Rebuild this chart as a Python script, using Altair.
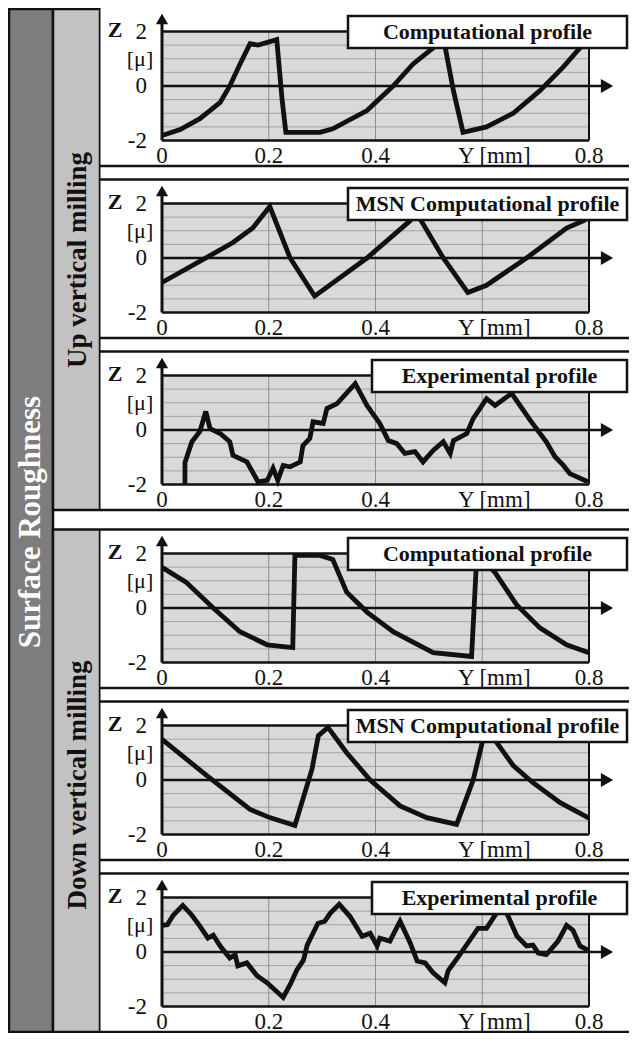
import altair as alt
import pandas as pd

# ------------------------------------------------------------------ data
up_comp_x = [0.0, 0.034, 0.071, 0.109, 0.127, 0.146, 0.165, 0.18, 0.215, 0.225, 0.232, 0.296,
             0.32, 0.384, 0.433, 0.47, 0.508, 0.525, 0.546, 0.564, 0.608, 0.658, 0.708, 0.752, 0.783, 0.8]
up_comp_z = [-1.82, -1.6, -1.2, -0.6, 0.0, 0.8, 1.55, 1.5, 1.7, -0.5, -1.7, -1.7,
             -1.57, -0.9, 0.0, 0.8, 1.4, 2.0, -0.17, -1.7, -1.5, -1.0, -0.17, 0.7, 1.4, 1.7]

up_msn_x = [0.0, 0.084, 0.133, 0.17, 0.202, 0.24, 0.286, 0.384, 0.465, 0.474, 0.527, 0.573,
            0.608, 0.683, 0.758, 0.79, 0.8]
up_msn_z = [-0.9, 0.02, 0.57, 1.1, 1.89, 0.0, -1.4, 0.0, 1.37, 1.75, 0.0, -1.27,
            -1.0, 0.0, 1.1, 1.37, 1.5]

up_exp_x = [0.043, 0.043, 0.056, 0.071, 0.082, 0.09, 0.109, 0.127, 0.133, 0.159, 0.18, 0.197,
            0.208, 0.217, 0.227, 0.24, 0.259, 0.264, 0.277, 0.283, 0.302, 0.309, 0.328, 0.362,
            0.384, 0.408, 0.424, 0.44, 0.455, 0.474, 0.489, 0.508, 0.527, 0.54, 0.546, 0.571,
            0.583, 0.608, 0.624, 0.655, 0.69, 0.72, 0.736, 0.752, 0.764, 0.798]
up_exp_z = [-2.0, -1.2, -0.43, -0.05, 0.68, 0.05, -0.13, -0.43, -0.93, -1.17, -1.9, -1.85,
            -1.4, -1.85, -1.3, -1.35, -1.17, -0.57, -0.31, 0.3, 0.24, 0.79, 0.97, 1.7,
            0.9, 0.24, -0.39, -0.5, -0.86, -0.79, -1.17, -0.75, -0.43, -0.86, -0.39, -0.13,
            0.42, 1.15, 0.9, 1.34, 0.35, -0.43, -0.97, -1.3, -1.6, -1.9]

down_comp_x = [0.0, 0.045, 0.096, 0.146, 0.197, 0.245, 0.249, 0.296, 0.32, 0.346, 0.384, 0.433,
               0.508, 0.58, 0.59, 0.624, 0.665, 0.708, 0.758, 0.8]
down_comp_z = [1.49, 0.95, 0.0, -0.87, -1.35, -1.45, 1.93, 1.93, 1.78, 0.58, -0.15, -0.87,
               -1.64, -1.78, 2.0, 1.3, 0.1, -0.73, -1.35, -1.64]

down_msn_x = [0.0, 0.084, 0.165, 0.202, 0.249, 0.281, 0.293, 0.311, 0.346, 0.39, 0.446, 0.496,
              0.552, 0.583, 0.6, 0.61, 0.627, 0.658, 0.695, 0.746, 0.8]
down_msn_z = [1.49, 0.16, -1.08, -1.38, -1.67, 0.4, 1.63, 1.93, 1.0, 0.0, -0.95, -1.38,
              -1.63, 0.0, 1.38, 1.95, 1.38, 0.53, -0.1, -0.83, -1.4]

down_exp_x = [0.0, 0.01, 0.021, 0.039, 0.056, 0.071, 0.086, 0.096, 0.109, 0.127, 0.137, 0.142,
              0.159, 0.178, 0.197, 0.227, 0.24, 0.253, 0.265, 0.272, 0.283, 0.292, 0.305, 0.315,
              0.332, 0.352, 0.375, 0.39, 0.403, 0.408, 0.427, 0.446, 0.465, 0.478, 0.493, 0.508,
              0.53, 0.536, 0.558, 0.577, 0.592, 0.608, 0.63, 0.64, 0.646, 0.665, 0.683, 0.695,
              0.705, 0.72, 0.742, 0.758, 0.77, 0.783, 0.798]
down_exp_z = [0.98, 1.0, 1.35, 1.71, 1.35, 0.95, 0.51, 0.62, 0.22, -0.22, -0.1, -0.51,
              -0.4, -0.87, -1.13, -1.67, -1.2, -0.65, -0.3, 0.25, 0.69, 1.05, 1.13, 1.42,
              1.75, 1.31, 0.58, 0.69, 0.22, 0.51, 0.4, 1.13, 0.33, -0.33, -0.4, -0.76,
              -1.13, -0.69, -0.1, 0.44, 0.87, 0.87, 1.53, 2.0, 1.42, 0.58, 0.22, 0.25,
              -0.04, -0.1, 0.4, 0.98, 0.8, 0.22, 0.07]

x_ticks = [0, 0.2, 0.4, 0.8]
x_tick_labels = ["0", "0.2", "0.4", "0.8"]
x_unit_label = "Y [mm]"
x_unit_at = 0.6
y_ticks = [2, 0, -2]
y_tick_labels = ["2", "0", "-2"]
y_unit_label = "[μ]"
y_unit_at = 1.0
y_name = "Z"
h_grid = [-1.5, -1.0, -0.5, 0.5, 1.0, 1.5]
v_grid = [0.2, 0.4, 0.6]

panel_titles = ["Computational profile", "MSN Computational profile", "Experimental profile",
                "Computational profile", "MSN Computational profile", "Experimental profile"]
group_labels = ["Up vertical milling", "Down vertical milling"]
main_label = "Surface Roughness"

# ------------------------------------------------------------------ layout (pixels) / style
SERIF = "Liberation Serif"
LEFT_W, PANEL_W, TOTAL_W, TOTAL_H = 92, 529, 621, 1025
PLOT_L, PLOT_R = 62, 489            # x=0 and x=0.8, px from panel left
PLOT_HPX = 109                      # px between z=2 and z=-2
PLOT_TO_BORDER = 25.5               # plot bottom -> separator line
PXX = (PLOT_R - PLOT_L) / 0.8
PXY = PLOT_HPX / 4.0
XMIN, XMAX = -PLOT_L / PXX, 0.8 + (PANEL_W - PLOT_R) / PXX

# (view top, view bottom, top separator or None, plot top) in px from chart top
PANEL_GEOM = [(0, 165, None, 23.5), (165, 337, 171.5, 195.5), (337, 512, 343.5, 367.5),
              (512, 687, 521.5, 545.5), (687, 859, 693.5, 717.5), (859, 1025, 865.5, 889.5)]

PLOT_FILL = "#d9d9d9"
GRID_H = "#a3a3a3"
GRID_V = "#8c8c8c"
DARK_FILL = "#7d7d7d"
LIGHT_FILL = "#c2c2c2"
INK = "#111111"

XS = alt.Scale(domain=[XMIN, XMAX], nice=False, zero=False)


def xd(px):
    """panel-relative px -> data x"""
    return (px - PLOT_L) / PXX


def seg_df(x, x2, y, y2):
    return pd.DataFrame({"x": x, "x2": x2, "y": y, "y2": y2})


def panel(xs, zs, title, geom):
    v_top, v_bot, sep_top, plot_top = geom

    def yd(py):
        return 2 - (py - plot_top) / PXY

    ys = alt.Scale(domain=[yd(v_bot), yd(v_top)], nice=False, zero=False)
    X = alt.X("x:Q", scale=XS, axis=None)
    Y = alt.Y("y:Q", scale=ys, axis=None)

    exp = title.startswith("Experimental")
    box_l = xd(272) if exp else xd(248)
    box_r = xd(527)
    box_t = yd(plot_top - 15.5)
    box_b = yd(plot_top + 16.5)
    zero_end = xd(501)
    arrow_r_c = xd(507)
    arrow_u_c = yd(plot_top - 12.5)
    sep_bot = plot_top + PLOT_HPX + PLOT_TO_BORDER

    layers = []
    layers.append(alt.Chart(seg_df([0], [0.8], [-2], [2])).mark_rect(fill=PLOT_FILL).encode(
        x=X, x2=alt.X2("x2"), y=Y, y2=alt.Y2("y2")))
    layers.append(alt.Chart(seg_df([0] * len(h_grid), [0.8] * len(h_grid), h_grid, h_grid)).mark_rule(
        color=GRID_H, strokeWidth=1).encode(x=X, x2=alt.X2("x2"), y=Y))
    layers.append(alt.Chart(seg_df(v_grid, v_grid, [-2] * 3, [2] * 3)).mark_rule(
        color=GRID_V, strokeWidth=1).encode(x=X, y=Y, y2=alt.Y2("y2")))
    layers.append(alt.Chart(seg_df([0], [zero_end], [0], [0])).mark_rule(
        color=INK, strokeWidth=2.6).encode(x=X, x2=alt.X2("x2"), y=Y))
    layers.append(alt.Chart(pd.DataFrame({"x": xs, "y": zs, "i": range(len(xs))})).mark_line(
        color=INK, strokeWidth=4.8, strokeJoin="miter", strokeMiterLimit=3).encode(
        x=X, y=Y, order="i:Q"))
    layers.append(alt.Chart(seg_df([0, 0], [0.8, 0.8], [2, -2], [2, -2])).mark_rule(
        color=INK, strokeWidth=2.6).encode(x=X, x2=alt.X2("x2"), y=Y))
    layers.append(alt.Chart(seg_df([0.8], [0.8], [-2], [2])).mark_rule(
        color=INK, strokeWidth=2).encode(x=X, y=Y, y2=alt.Y2("y2")))
    layers.append(alt.Chart(seg_df([0], [0], [-2], [arrow_u_c])).mark_rule(
        color=INK, strokeWidth=3).encode(x=X, y=Y, y2=alt.Y2("y2")))
    layers.append(alt.Chart(pd.DataFrame({"x": [arrow_r_c], "y": [0]})).mark_point(
        shape="triangle-right", filled=True, size=200, color=INK, opacity=1).encode(x=X, y=Y))
    layers.append(alt.Chart(pd.DataFrame({"x": [0], "y": [arrow_u_c]})).mark_point(
        shape="triangle-up", filled=True, size=150, color=INK, opacity=1).encode(x=X, y=Y))

    # separator lines of the panel frame
    seps = [sep_bot] if sep_top is None else [sep_top, sep_bot]
    layers.append(alt.Chart(seg_df([XMIN] * len(seps), [XMAX] * len(seps),
                                   [yd(s) for s in seps], [yd(s) for s in seps])).mark_rule(
        color=INK, strokeWidth=2.5).encode(x=X, x2=alt.X2("x2"), y=Y))

    layers.append(alt.Chart(seg_df([box_l], [box_r], [box_b], [box_t])).mark_rect(
        fill="white", stroke=INK, strokeWidth=2.5).encode(
        x=X, x2=alt.X2("x2"), y=Y, y2=alt.Y2("y2")))
    layers.append(alt.Chart(pd.DataFrame({"x": [(box_l + box_r) / 2], "y": [(box_t + box_b) / 2],
                                          "t": [title]})).mark_text(
        font=SERIF, fontWeight="bold", fontSize=22, color=INK, baseline="middle").encode(
        x=X, y=Y, text="t:N"))

    layers.append(alt.Chart(pd.DataFrame({"x": [xd(47)] * 3, "y": y_ticks, "t": y_tick_labels})).mark_text(
        font=SERIF, fontSize=23, align="right", baseline="middle", color=INK).encode(
        x=X, y=Y, text="t:N"))
    layers.append(alt.Chart(pd.DataFrame({"x": [xd(40)], "y": [y_unit_at], "t": [y_unit_label]})).mark_text(
        font=SERIF, fontSize=22, align="center", baseline="middle", color=INK).encode(
        x=X, y=Y, text="t:N"))
    layers.append(alt.Chart(pd.DataFrame({"x": [xd(15)], "y": [yd(plot_top - 2)], "t": [y_name]})).mark_text(
        font=SERIF, fontSize=22, fontWeight="bold", align="center", baseline="middle",
        color=INK).encode(x=X, y=Y, text="t:N"))
    lab_y = yd(plot_top + PLOT_HPX + 15)
    layers.append(alt.Chart(pd.DataFrame({"x": x_ticks, "y": [lab_y] * len(x_ticks),
                                          "t": x_tick_labels})).mark_text(
        font=SERIF, fontSize=23, align="center", baseline="middle", color=INK).encode(
        x=X, y=Y, text="t:N"))
    layers.append(alt.Chart(pd.DataFrame({"x": [x_unit_at], "y": [lab_y], "t": [x_unit_label]})).mark_text(
        font=SERIF, fontSize=23, align="center", baseline="middle", dx=12, color=INK).encode(
        x=X, y=Y, text="t:N"))

    return alt.layer(*layers).properties(
        width=PANEL_W, height=v_bot - v_top,
        view=alt.ViewBackground(fill="white", stroke="transparent"))


# ---- left label column (decoration): dark bar + two light bars
def _sep(g):
    return g[3] + PLOT_HPX + PLOT_TO_BORDER


up_bottom = _sep(PANEL_GEOM[2])
down_top = PANEL_GEOM[3][2]
down_bottom = _sep(PANEL_GEOM[5])
DARK_X = (1, 45)
LIGHT_X = (45, 92)

base = alt.Chart(pd.DataFrame({"k": [0]}))
left_layers = [
    base.mark_rect(fill=DARK_FILL, stroke=INK, strokeWidth=2.5).encode(
        x=alt.value(DARK_X[0]), x2=alt.value(DARK_X[1]), y=alt.value(1), y2=alt.value(down_bottom)),
    base.mark_rect(fill=LIGHT_FILL, stroke=INK, strokeWidth=2.5).encode(
        x=alt.value(LIGHT_X[0]), x2=alt.value(LIGHT_X[1]), y=alt.value(1), y2=alt.value(up_bottom)),
    base.mark_rect(fill=LIGHT_FILL, stroke=INK, strokeWidth=2.5).encode(
        x=alt.value(LIGHT_X[0]), x2=alt.value(LIGHT_X[1]), y=alt.value(down_top), y2=alt.value(down_bottom)),
    base.mark_text(angle=270, font=SERIF, fontWeight="bold", fontSize=31, color="white",
                   align="center", baseline="middle").encode(
        text=alt.value(main_label), x=alt.value(sum(DARK_X) / 2), y=alt.value(514)),
    base.mark_text(angle=270, font=SERIF, fontWeight="bold", fontSize=27, color=INK,
                   align="center", baseline="middle").encode(
        text=alt.value(group_labels[0]), x=alt.value(sum(LIGHT_X) / 2 + 1), y=alt.value(252)),
    base.mark_text(angle=270, font=SERIF, fontWeight="bold", fontSize=27, color=INK,
                   align="center", baseline="middle").encode(
        text=alt.value(group_labels[1]), x=alt.value(sum(LIGHT_X) / 2 + 1), y=alt.value(777)),
]
left = alt.layer(*left_layers).properties(
    width=LEFT_W, height=TOTAL_H, view=alt.ViewBackground(fill="white", stroke="transparent"))

profiles = [(up_comp_x, up_comp_z), (up_msn_x, up_msn_z), (up_exp_x, up_exp_z),
            (down_comp_x, down_comp_z), (down_msn_x, down_msn_z), (down_exp_x, down_exp_z)]
panels = [panel(px, pz, t, g) for (px, pz), t, g in zip(profiles, panel_titles, PANEL_GEOM)]

right_col = alt.vconcat(*panels, spacing=0, bounds="flush")

chart = alt.hconcat(left, right_col, spacing=0, bounds="flush").properties(
    autosize=alt.AutoSizeParams(type="none"),
    padding={"left": 0, "top": 0, "right": TOTAL_W, "bottom": TOTAL_H},
    background="white",
)

chart.save("out.html", embed_options={"renderer": "svg", "actions": False})
